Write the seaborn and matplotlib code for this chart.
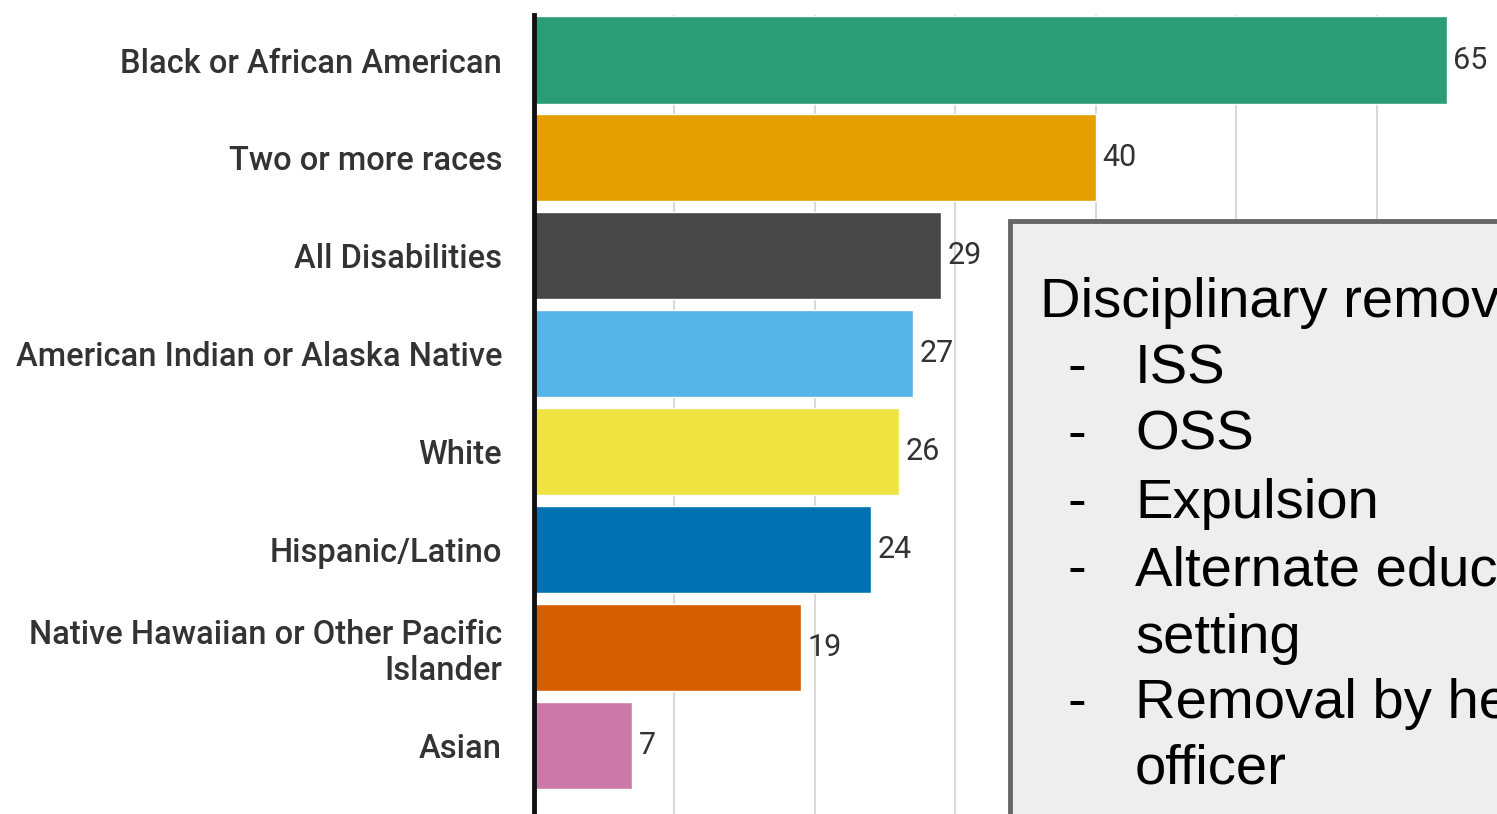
import matplotlib
matplotlib.use("Agg")
import matplotlib.pyplot as plt
import seaborn as sns
import pandas as pd
from matplotlib.patches import Rectangle

categories = [
    "Black or African American",
    "Two or more races",
    "All Disabilities",
    "American Indian or Alaska Native",
    "White",
    "Hispanic/Latino",
    "Native Hawaiian or Other Pacific\nIslander",
    "Asian",
]
values = [65, 40, 29, 27, 26, 24, 19, 7]
colors = ["#2a9d76", "#e69f00", "#474747", "#56b4e9", "#f0e442", "#0072b2", "#d55e00", "#cc79a7"]
# text of the overlaid box, as far as it is visible in the cropped picture
box_title = "Disciplinary remov"
box_dashes = ["-", "-", "-", "-", "", "-", ""]
box_lines = ["ISS", "OSS", "Expulsion", "Alternate educ", "setting", "Removal by he", "officer"]

sns.set_theme(style="white")
plt.rcParams["font.family"] = ["Roboto", "DejaVu Sans"]

W, H = 1497, 814
fig = plt.figure(figsize=(W / 100, H / 100), dpi=100)
ax_left = 534 / W
ax_top_px = 15
ax = fig.add_axes([ax_left, 0, 1 - ax_left, (H - ax_top_px) / H])

df = pd.DataFrame({"cat": categories, "val": values})
sns.barplot(data=df, x="val", y="cat", hue="cat", palette=colors, legend=False,
            ax=ax, width=0.89, saturation=1, orient="h")

px_per_unit = (1448 - 535) / 65
ax.set_xlim(0, (W - 534) / px_per_unit)
spacing = 97.9
ax.set_ylim((H - 60) / spacing, -(60 - ax_top_px) / spacing)
ax.set_xticks([10, 20, 30, 40, 50, 60])
ax.xaxis.grid(True, color="#d9d9d9", linewidth=1.5)
ax.set_axisbelow(True)
ax.set_xlabel("")
ax.set_ylabel("")
ax.tick_params(axis="x", labelbottom=False, length=0)
ax.tick_params(axis="y", length=0, pad=23, labelsize=23.5, labelcolor="#333333")
for lab in ax.get_yticklabels():
    lab.set_horizontalalignment("right")
    lab.set_fontweight("medium")
    lab.set_linespacing(1.15)
for s in ["top", "right", "bottom"]:
    ax.spines[s].set_visible(False)
ax.spines["left"].set_color("#111111")
ax.spines["left"].set_linewidth(3.5)

for i, v in enumerate(values):
    ax.text(v + 0.45, i, str(v), va="center", ha="left", fontsize=22,
            color="#333333")

# overlay text box
box = Rectangle((1010 / W, -0.01), 0.4, (H - 221) / H + 0.01, transform=fig.transFigure,
                facecolor="#eeeeee", edgecolor="#666666", linewidth=3.5, zorder=5)
fig.add_artist(box)
fs = 40.5
fam = ["Liberation Sans", "DejaVu Sans"]
fig.text(1040 / W, 1 - 317 / H, box_title, fontsize=fs, family=fam, va="baseline",
         ha="left", zorder=6, color="black")
baselines = [383, 450, 518, 585, 653, 718, 784]
for dash, line, y in zip(box_dashes, box_lines, baselines):
    if dash:
        fig.text(1068 / W, 1 - y / H, dash, fontsize=fs, family=fam, va="baseline",
                 ha="left", zorder=6, color="black")
    fig.text(1135 / W, 1 - y / H, line, fontsize=fs, family=fam, va="baseline",
             ha="left", zorder=6, color="black")

fig.savefig("out.png", dpi=100)
